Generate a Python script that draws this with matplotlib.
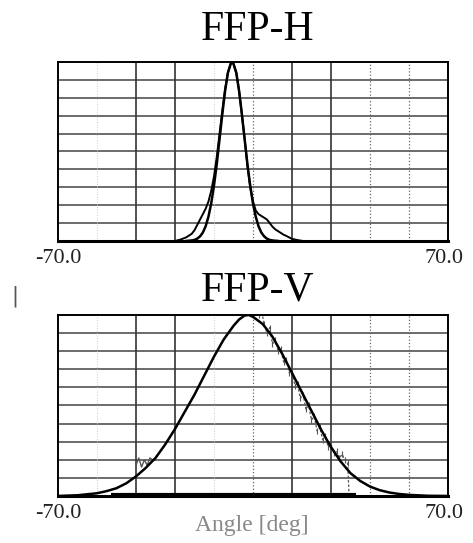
import matplotlib.pyplot as plt

# FFP-H: fitted curve and measured curve (angle deg, normalised intensity)
h_fit_ang = [-24, -22, -21, -20, -19, -18, -17, -16, -15, -14, -13, -12, -11, -10, -9, -8, -7.5,
             -7, -6, -5, -4, -3, -2, -1, 0, 1, 2, 3, 4, 5, 6, 7, 9]
h_fit_val = [0, 0.003, 0.006, 0.013, 0.026, 0.047, 0.082, 0.135, 0.21, 0.31, 0.43, 0.57, 0.71, 0.84,
             0.94, 0.99, 1.0, 0.99, 0.94, 0.84, 0.71, 0.57, 0.43, 0.31, 0.21, 0.135, 0.082, 0.047,
             0.026, 0.013, 0.006, 0.003, 0]
h_meas_ang = [-28, -26, -24, -22, -21, -20, -19, -18, -17, -16, -15, -14, -13, -12, -11, -10, -9, -8,
              -7.5, -7, -6, -5, -4, -3, -2, -1, 0, 1, 2, 3, 4, 5, 6, 7, 8, 9, 10, 11, 12, 13, 14, 16, 18]
h_meas_val = [0, 0.008, 0.02, 0.04, 0.06, 0.09, 0.12, 0.15, 0.18, 0.22, 0.28, 0.36, 0.47, 0.6, 0.73,
              0.85, 0.94, 0.99, 1.0, 0.99, 0.94, 0.84, 0.71, 0.57, 0.42, 0.3, 0.22, 0.17, 0.15, 0.14,
              0.13, 0.12, 0.1, 0.08, 0.065, 0.055, 0.045, 0.035, 0.028, 0.02, 0.012, 0.005, 0]

# FFP-V
v_fit_ang = [-70, -63, -56, -52.5, -49, -45.5, -42, -38.5, -35, -31.5, -28, -24.5, -21, -17.5, -14,
             -10.5, -7, -5, -3, -1.5, 0, 3.5, 7, 10.5, 14, 17.5, 21, 24.5, 28, 31.5, 35, 38.5, 42,
             45.5, 49, 52.5, 56, 63, 70]
v_fit_val = [0, 0.004, 0.015, 0.027, 0.043, 0.07, 0.108, 0.155, 0.21, 0.285, 0.37, 0.465, 0.56, 0.665,
             0.77, 0.865, 0.94, 0.975, 0.997, 1.0, 0.99, 0.95, 0.88, 0.785, 0.68, 0.575, 0.47, 0.365,
             0.27, 0.19, 0.126, 0.083, 0.052, 0.032, 0.019, 0.011, 0.006, 0.001, 0]
v_meas_ang = [-42, -41, -40, -39, -38, -37, -36, 2, 3, 4, 5, 6, 7, 8, 9, 10, 11, 12, 13, 14, 15, 16,
              17, 18, 19, 20, 21, 22, 23, 24, 25, 26, 27, 28, 29, 30, 31, 32, 33, 34, 34.5]
v_meas_val = [0.17, 0.21, 0.16, 0.2, 0.17, 0.21, 0.2, 1.0, 1.03, 0.95, 0.9, 0.93, 0.84, 0.86, 0.8,
              0.81, 0.74, 0.75, 0.68, 0.7, 0.61, 0.62, 0.54, 0.56, 0.48, 0.5, 0.42, 0.44, 0.36, 0.38,
              0.31, 0.33, 0.27, 0.29, 0.24, 0.25, 0.21, 0.23, 0.2, 0.18, 0]

xlim = (-70, 70)
solid_v = [-42, -28, 14, 28]
dotted_v = [0, 42, 56]
faint_v = [-56, -14]

serif = ['Liberation Serif', 'DejaVu Serif']

fig = plt.figure(figsize=(4.73, 5.43), dpi=100)
ax1 = fig.add_axes([0.1226, 0.5562, 0.8245, 0.3296])
ax2 = fig.add_axes([0.1226, 0.0866, 0.8245, 0.3333])


def frame(ax):
    ax.set_xlim(*xlim)
    ax.set_ylim(0, 1.0)
    for y in [i / 10 for i in range(1, 10)]:
        ax.axhline(y, color='#444444', lw=1.1, zorder=1)
    for x in solid_v:
        ax.axvline(x, color='#333333', lw=1.2, zorder=1)
    for x in dotted_v:
        ax.axvline(x, color='#666666', lw=0.9, ls=':', zorder=1)
    for x in faint_v:
        ax.axvline(x, color='#cccccc', lw=0.7, ls=':', zorder=1)
    for s in ax.spines.values():
        s.set_linewidth(1.4)
    ax.spines['bottom'].set_linewidth(2.2)
    ax.set_yticks([])
    ax.set_xticks([-70, 68.5])
    ax.set_xticklabels(['-70.0', '70.0'], family=serif, fontsize=16, color='#222222')
    ax.tick_params(axis='x', length=0, pad=6)


frame(ax1)
ax1.plot(h_fit_ang, h_fit_val, color='black', lw=1.8, zorder=3)
ax1.plot(h_meas_ang, h_meas_val, color='black', lw=1.4, zorder=3)

frame(ax2)
ax2.plot(v_fit_ang, v_fit_val, color='black', lw=1.8, zorder=3)
ax2.plot(v_meas_ang[:7], v_meas_val[:7], color='#555555', lw=1.0, zorder=2)
ax2.plot(v_meas_ang[7:], v_meas_val[7:], color='#555555', lw=0.9, ls=(0, (2, 1.5)),
         marker='|', ms=5, mew=0.8, zorder=2)
ax2.plot([-51, 37], [0.003, 0.003], color='black', lw=3, zorder=3, solid_capstyle='butt')

fig.text(0.545, 0.945, 'FFP-H', ha='center', va='center', family=serif, fontsize=30)
fig.text(0.545, 0.466, 'FFP-V', ha='center', va='center', family=serif, fontsize=30)
fig.text(0.533, 0.033, 'Angle [deg]', ha='center', va='center', family=serif,
         fontsize=17, color='#888888')
fig.text(0.032, 0.455, '|', ha='center', va='center', fontsize=15, color='#555555')

fig.savefig('out.png', dpi=100)
